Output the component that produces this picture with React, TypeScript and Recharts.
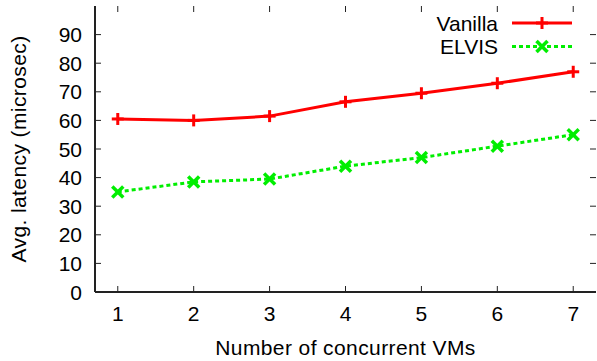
import React from 'react';
import { LineChart, Line, XAxis, YAxis } from 'recharts';

const vmCounts = [1, 2, 3, 4, 5, 6, 7];
const vanillaLatency = [60.5, 60, 61.5, 66.5, 69.5, 73, 77];
const elvisLatency = [35, 38.5, 39.5, 44, 47, 51, 55];
const xTicks = [1, 2, 3, 4, 5, 6, 7];
const yTicks = [0, 10, 20, 30, 40, 50, 60, 70, 80, 90];
const seriesNames = ['Vanilla', 'ELVIS'];
const xTitle = 'Number of concurrent VMs';
const yTitle = 'Avg. latency (microsec)';

const data = vmCounts.map((v, i) => ({
  vms: v,
  vanilla: vanillaLatency[i],
  elvis: elvisLatency[i],
}));

const W = 597;
const H = 361;
const Y_AXIS_W = 95;
const X_AXIS_H = 69;
const MARGIN = { top: 6, right: 1, left: 0, bottom: 0 };
const PLOT_TOP = MARGIN.top;
const PLOT_BOTTOM = H - X_AXIS_H;
const PLOT_LEFT = Y_AXIS_W;
const PLOT_RIGHT = W - MARGIN.right;
const FRAME = '#222';
const FONT = '"Liberation Sans", Arial, Helvetica, sans-serif';
const FS = 21;
const RED = '#ff0000';
const GREEN = '#00ee00';
const TICK = 6;

const XTick = (props: any) => {
  const { x, payload } = props;
  return (
    <g>
      <line x1={x} x2={x} y1={PLOT_BOTTOM} y2={PLOT_BOTTOM - TICK} stroke={FRAME} strokeWidth={1} />
      <line x1={x} x2={x} y1={PLOT_TOP} y2={PLOT_TOP + TICK} stroke={FRAME} strokeWidth={1} />
      <text x={x} y={321} textAnchor="middle" fontFamily={FONT} fontSize={FS} fill="#000">
        {payload.value}
      </text>
    </g>
  );
};

const YTick = (props: any) => {
  const { y, payload } = props;
  return (
    <g>
      <line x1={PLOT_LEFT} x2={PLOT_LEFT + TICK} y1={y} y2={y} stroke={FRAME} strokeWidth={1} />
      <line x1={PLOT_RIGHT} x2={PLOT_RIGHT - TICK} y1={y} y2={y} stroke={FRAME} strokeWidth={1} />
      <text x={82} y={y} dy="0.36em" textAnchor="end" fontFamily={FONT} fontSize={FS} fill="#000">
        {payload.value}
      </text>
    </g>
  );
};

const PlusDot = (props: any) => {
  const { cx, cy } = props;
  if (cx == null || cy == null) return null;
  const s = 6;
  return (
    <g>
      <line x1={cx - s} x2={cx + s} y1={cy} y2={cy} stroke={RED} strokeWidth={3} />
      <line x1={cx} x2={cx} y1={cy - s} y2={cy + s} stroke={RED} strokeWidth={3} />
    </g>
  );
};

const CrossDot = (props: any) => {
  const { cx, cy } = props;
  if (cx == null || cy == null) return null;
  const s = 5.5;
  return (
    <g>
      <line x1={cx - s} x2={cx + s} y1={cy - s} y2={cy + s} stroke={GREEN} strokeWidth={3.5} />
      <line x1={cx - s} x2={cx + s} y1={cy + s} y2={cy - s} stroke={GREEN} strokeWidth={3.5} />
    </g>
  );
};

const Legend = () => (
  <svg width={W} height={H} style={{ position: 'absolute', left: 0, top: 0, pointerEvents: 'none' }}>
    <text x={498} y={31} textAnchor="end" fontFamily={FONT} fontSize={FS} fill="#000">{seriesNames[0]}</text>
    <line x1={512} x2={572} y1={23} y2={23} stroke={RED} strokeWidth={3} />
    <PlusDot cx={542} cy={23} />
    <text x={498} y={54} textAnchor="end" fontFamily={FONT} fontSize={FS} fill="#000">{seriesNames[1]}</text>
    <line x1={512} x2={572} y1={46.5} y2={46.5} stroke={GREEN} strokeWidth={3} strokeDasharray="4 3" />
    <CrossDot cx={542} cy={46.5} />
  </svg>
);

export default function App() {
  return (
    <div style={{ position: 'absolute', left: 0, top: 0, width: W, height: H, background: '#fff' }}>
      <LineChart width={W} height={H} data={data} margin={MARGIN}>
        <XAxis
          dataKey="vms"
          type="number"
          domain={[0.7, 7.3]}
          ticks={xTicks}
          height={X_AXIS_H}
          tickLine={false}
          axisLine={{ stroke: FRAME, strokeWidth: 2 }}
          tick={<XTick />}
          interval={0}
          allowDataOverflow
          label={() => (
            <text x={(PLOT_LEFT + PLOT_RIGHT) / 2} y={355} textAnchor="middle" fontFamily={FONT} fontSize={FS} fill="#000" letterSpacing={0.4}>
              {xTitle}
            </text>
          )}
        />
        <XAxis
          xAxisId="top"
          orientation="top"
          dataKey="vms"
          type="number"
          domain={[0.7, 7.3]}
          height={0}
          tick={false}
          tickLine={false}
          axisLine={{ stroke: FRAME, strokeWidth: 2 }}
        />
        <YAxis
          type="number"
          domain={[0, 100]}
          ticks={yTicks}
          width={Y_AXIS_W}
          tickLine={false}
          axisLine={{ stroke: FRAME, strokeWidth: 2 }}
          tick={<YTick />}
          interval={0}
          allowDataOverflow
          label={() => (
            <text
              x={26}
              y={(PLOT_TOP + PLOT_BOTTOM) / 2}
              transform={`rotate(-90 26 ${(PLOT_TOP + PLOT_BOTTOM) / 2})`}
              textAnchor="middle"
              fontFamily={FONT}
              fontSize={FS}
              fill="#000"
              letterSpacing={0.4}
            >
              {yTitle}
            </text>
          )}
        />
        <YAxis
          yAxisId="right"
          orientation="right"
          type="number"
          domain={[0, 100]}
          width={0}
          tick={false}
          tickLine={false}
          axisLine={{ stroke: FRAME, strokeWidth: 2 }}
        />
        <Line
          type="linear"
          dataKey="vanilla"
          name={seriesNames[0]}
          stroke={RED}
          strokeWidth={3}
          dot={<PlusDot />}
          activeDot={false}
          isAnimationActive={false}
        />
        <Line
          type="linear"
          dataKey="elvis"
          name={seriesNames[1]}
          stroke={GREEN}
          strokeWidth={3}
          strokeDasharray="4 3"
          dot={<CrossDot />}
          activeDot={false}
          isAnimationActive={false}
        />
      </LineChart>
      <Legend />
    </div>
  );
}
